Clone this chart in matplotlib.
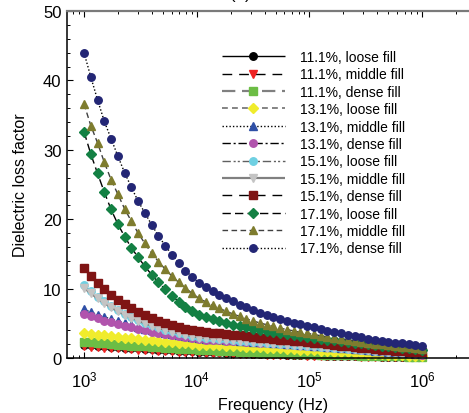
import numpy as np
import matplotlib
matplotlib.use("Agg")
from matplotlib import pyplot as plt
from matplotlib.ticker import MultipleLocator, LogLocator

plt.rcParams["font.family"] = ["Liberation Sans", "DejaVu Sans"]

# measurement sweep, 51 points from 1 kHz to 1 MHz
frequency = np.logspace(3, 6, 51)

labels = [
    "11.1%, loose fill", "11.1%, middle fill", "11.1%, dense fill",
    "13.1%, loose fill", "13.1%, middle fill", "13.1%, dense fill",
    "15.1%, loose fill", "15.1%, middle fill", "15.1%, dense fill",
    "17.1%, loose fill", "17.1%, middle fill", "17.1%, dense fill",
]

loss_11_loose = [
    1.9, 1.82, 1.75, 1.68, 1.61, 1.55, 1.49, 1.43, 1.37, 1.31,
    1.26, 1.21, 1.16, 1.11, 1.06, 1.01, 0.97, 0.93, 0.89, 0.85,
    0.81, 0.77, 0.73, 0.7, 0.67, 0.64, 0.61, 0.58, 0.55, 0.52,
    0.49, 0.46, 0.44, 0.42, 0.4, 0.38, 0.36, 0.34, 0.32, 0.3,
    0.28, 0.26, 0.24, 0.22, 0.2, 0.19, 0.18, 0.17, 0.16, 0.15,
    0.14]
loss_11_middle = [
    1.7, 1.63, 1.56, 1.5, 1.44, 1.38, 1.32, 1.26, 1.21, 1.16,
    1.11, 1.06, 1.01, 0.97, 0.93, 0.89, 0.85, 0.81, 0.77, 0.73,
    0.7, 0.67, 0.64, 0.61, 0.58, 0.55, 0.52, 0.49, 0.46, 0.44,
    0.42, 0.4, 0.38, 0.36, 0.34, 0.32, 0.3, 0.28, 0.26, 0.24,
    0.22, 0.2, 0.19, 0.18, 0.17, 0.16, 0.15, 0.14, 0.13, 0.12,
    0.11]
loss_11_dense = [
    2.35, 2.25, 2.17, 2.09, 2.01, 1.94, 1.87, 1.8, 1.73, 1.66,
    1.6, 1.54, 1.48, 1.42, 1.36, 1.3, 1.24, 1.19, 1.14, 1.09,
    1.04, 0.99, 0.95, 0.91, 0.87, 0.83, 0.79, 0.75, 0.71, 0.68,
    0.65, 0.62, 0.59, 0.56, 0.53, 0.5, 0.47, 0.44, 0.41, 0.39,
    0.37, 0.35, 0.33, 0.31, 0.29, 0.27, 0.25, 0.23, 0.21, 0.19,
    0.17]
loss_13_loose = [
    3.65, 3.5, 3.38, 3.26, 3.15, 3.04, 2.93, 2.83, 2.73, 2.63,
    2.54, 2.45, 2.36, 2.27, 2.18, 2.1, 2.02, 1.94, 1.9, 1.86,
    1.82, 1.78, 1.74, 1.7, 1.65, 1.6, 1.55, 1.5, 1.45, 1.4,
    1.34, 1.28, 1.22, 1.16, 1.1, 1.04, 0.98, 0.92, 0.86, 0.8,
    0.74, 0.68, 0.62, 0.57, 0.52, 0.47, 0.42, 0.38, 0.34, 0.3,
    0.26]
loss_13_middle = [
    7.0, 6.6, 6.25, 5.9, 5.6, 5.3, 5.0, 4.75, 4.5, 4.25,
    4.05, 3.85, 3.65, 3.45, 3.28, 3.12, 2.96, 2.85, 2.79, 2.73,
    2.67, 2.61, 2.55, 2.49, 2.43, 2.37, 2.31, 2.25, 2.19, 2.12,
    2.05, 1.98, 1.91, 1.84, 1.77, 1.7, 1.63, 1.56, 1.48, 1.4,
    1.32, 1.24, 1.16, 1.08, 1.0, 0.92, 0.84, 0.76, 0.68, 0.6,
    0.52]
loss_13_dense = [
    6.4, 6.0, 5.7, 5.4, 5.15, 4.9, 4.65, 4.4, 4.2, 4.0,
    3.8, 3.62, 3.45, 3.29, 3.13, 2.98, 2.84, 2.7, 2.65, 2.6,
    2.55, 2.5, 2.45, 2.4, 2.34, 2.28, 2.22, 2.16, 2.1, 2.04,
    1.98, 1.92, 1.86, 1.8, 1.73, 1.66, 1.59, 1.52, 1.45, 1.37,
    1.29, 1.21, 1.13, 1.05, 0.97, 0.89, 0.81, 0.73, 0.65, 0.57,
    0.5]
loss_15_loose = [
    10.5, 9.6, 8.85, 8.15, 7.5, 6.9, 6.35, 5.85, 5.45, 5.05,
    4.7, 4.4, 4.1, 3.85, 3.6, 3.4, 3.2, 3.0, 2.92, 2.84,
    2.76, 2.68, 2.6, 2.52, 2.44, 2.36, 2.28, 2.2, 2.12, 2.05,
    1.98, 1.91, 1.84, 1.77, 1.7, 1.63, 1.56, 1.49, 1.42, 1.35,
    1.28, 1.21, 1.14, 1.07, 1.0, 0.93, 0.86, 0.79, 0.72, 0.65,
    0.58]
loss_15_middle = [
    10.1, 9.3, 8.6, 7.9, 7.3, 6.75, 6.25, 5.8, 5.4, 5.0,
    4.65, 4.35, 4.05, 3.8, 3.55, 3.35, 3.15, 2.95, 2.87, 2.79,
    2.71, 2.63, 2.55, 2.47, 2.39, 2.31, 2.23, 2.15, 2.07, 2.0,
    1.93, 1.86, 1.79, 1.72, 1.65, 1.58, 1.51, 1.44, 1.37, 1.3,
    1.23, 1.16, 1.09, 1.02, 0.95, 0.88, 0.81, 0.74, 0.67, 0.6,
    0.53]
loss_15_dense = [
    12.9, 11.8, 10.8, 9.9, 9.1, 8.4, 7.75, 7.2, 6.65, 6.15,
    5.75, 5.4, 5.05, 4.75, 4.5, 4.25, 4.05, 3.85, 3.75, 3.65,
    3.55, 3.45, 3.35, 3.25, 3.15, 3.05, 2.95, 2.85, 2.75, 2.65,
    2.55, 2.5, 2.4, 2.3, 2.2, 2.1, 2.0, 1.9, 1.8, 1.7,
    1.6, 1.5, 1.4, 1.3, 1.2, 1.1, 1.05, 1.0, 0.9, 0.85,
    0.8]
loss_17_loose = [
    32.6, 29.4, 26.6, 23.9, 21.4, 19.3, 17.5, 15.9, 14.5, 13.2,
    12.0, 10.9, 9.9, 9.0, 8.1, 7.4, 6.8, 6.25, 5.9, 5.6,
    5.3, 5.05, 4.8, 4.6, 4.4, 4.2, 4.0, 3.85, 3.7, 3.55,
    3.4, 3.3, 3.15, 3.05, 2.9, 2.8, 2.65, 2.55, 2.4, 2.3,
    2.2, 2.1, 2.0, 1.9, 1.8, 1.7, 1.6, 1.5, 1.4, 1.3,
    1.2]
loss_17_middle = [
    36.6, 33.5, 31.0, 28.2, 25.7, 23.6, 21.5, 19.7, 18.0, 16.5,
    15.1, 13.9, 12.8, 11.8, 10.9, 10.1, 9.3, 8.6, 8.1, 7.6,
    7.15, 6.75, 6.35, 6.0, 5.65, 5.35, 5.05, 4.8, 4.55, 4.3,
    4.1, 3.9, 3.7, 3.55, 3.4, 3.2, 3.05, 2.9, 2.75, 2.6,
    2.45, 2.3, 2.2, 2.05, 1.95, 1.85, 1.75, 1.65, 1.55, 1.45,
    1.35]
loss_17_dense = [
    44.0, 40.5, 37.2, 34.1, 31.6, 29.1, 26.7, 24.6, 22.6, 20.9,
    19.2, 17.6, 16.2, 14.9, 13.7, 12.6, 11.7, 10.8, 10.2, 9.65,
    9.1, 8.6, 8.15, 7.7, 7.3, 6.9, 6.55, 6.2, 5.9, 5.6,
    5.35, 5.1, 4.85, 4.6, 4.4, 4.15, 3.95, 3.75, 3.55, 3.35,
    3.15, 3.0, 2.8, 2.65, 2.5, 2.35, 2.2, 2.1, 1.95, 1.85,
    1.7]

series = [
    loss_11_loose, loss_11_middle, loss_11_dense,
    loss_13_loose, loss_13_middle, loss_13_dense,
    loss_15_loose, loss_15_middle, loss_15_dense,
    loss_17_loose, loss_17_middle, loss_17_dense,
]

# (marker, marker colour, line colour, line width, dash pattern)
styles = [
    ("o", "#000000", "#000000", 1.0, (0, ())),
    ("v", "#ee2222", "#000000", 1.0, (0, (7, 5))),
    ("s", "#6cbd45", "#808080", 1.6, (0, (6, 3))),
    ("D", "#f0ec2c", "#707070", 1.2, (0, (3.5, 2.5))),
    ("^", "#2e4fa6", "#000000", 1.0, (0, (1, 1.5))),
    ("o", "#b154ad", "#000000", 1.0, (0, (6, 2, 1.5, 2))),
    ("o", "#6fd0e2", "#606060", 1.0, (0, (6, 2, 1.5, 1.5, 1.5, 2))),
    ("v", "#c4c4c4", "#808080", 1.6, (0, ())),
    ("s", "#7f1414", "#000000", 1.0, (0, (7, 5))),
    ("D", "#138043", "#000000", 1.0, (0, (6, 3))),
    ("^", "#7e7c2e", "#404040", 1.0, (0, (4, 2.5))),
    ("o", "#232675", "#000000", 1.0, (0, (1, 1.5))),
]


def main():
    fig = plt.figure(figsize=(4.69, 4.14), dpi=100)
    W, H = 469.0, 414.0
    # axes box in pixels: left 67, bottom spine 359, top 12; runs past right edge
    ax = fig.add_axes([67 / W, (H - 359) / H, 411.5 / W, 347 / H])

    for vals, lab, (mk, mc, lc, lw, ls) in zip(series, labels, styles):
        ax.plot(frequency, vals, color=lc, lw=lw, linestyle=ls,
                marker=mk, markersize=5.4 if mk != "D" else 4.8,
                markerfacecolor=mc, markeredgecolor=mc, label=lab,
                clip_on=False)

    ax.set_xscale("log")
    ax.set_xlim(10 ** 2.849, 10 ** 6.5)
    ax.set_ylim(0, 50)
    ax.yaxis.set_major_locator(MultipleLocator(10))
    ax.yaxis.set_minor_locator(MultipleLocator(2))
    ax.xaxis.set_major_locator(LogLocator(base=10, numticks=10))
    ax.xaxis.set_minor_locator(LogLocator(base=10, subs=np.arange(2, 10), numticks=20))

    ax.tick_params(which="both", direction="in", top=True, right=True)
    ax.tick_params(which="major", length=4, width=0.8)
    ax.tick_params(which="minor", length=2.5, width=0.7)
    ax.tick_params(axis="x", which="major", labelsize=12, pad=8)
    ax.tick_params(axis="y", which="major", labelsize=12, pad=4)

    for side in ["left", "bottom"]:
        ax.spines[side].set_linewidth(1.1)
    ax.spines["top"].set_color("#7a7a7a")
    ax.spines["top"].set_linewidth(1.6)

    ax.set_xlabel("Frequency (Hz)", fontsize=11.5, labelpad=6)
    ax.set_ylabel("Dielectric loss factor", fontsize=11.5, labelpad=11)

    ax.legend(loc="upper left", bbox_to_anchor=(222 / W, 1 - 51 / H),
              bbox_transform=fig.transFigure, frameon=False, fontsize=10,
              numpoints=1, handlelength=4.5, handletextpad=1.1,
              labelspacing=0.245, borderpad=0, borderaxespad=0)

    # panel letter sits mostly above the top edge
    fig.text(240 / W, 1 + 1 / H, "(a)", ha="center", va="baseline", fontsize=12)

    fig.savefig("out.png", dpi=100)


if __name__ == "__main__":
    main()
